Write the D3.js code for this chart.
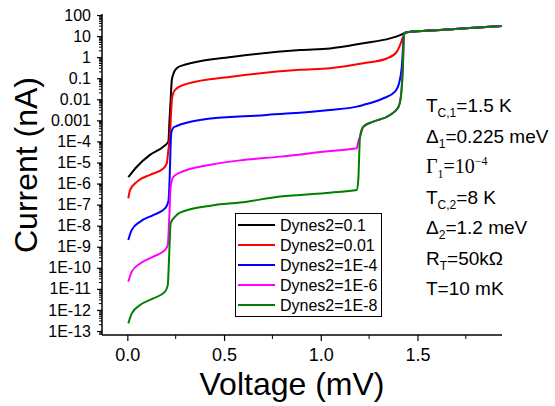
<!DOCTYPE html>
<html>
<head>
<meta charset="utf-8">
<script src="https://cdn.jsdelivr.net/npm/d3@7"></script>
<style>
  body { margin: 0; background: #fff; }
  svg { font-family: "Liberation Sans", Arial, sans-serif; }
</style>
</head>
<body>
<svg width="555" height="406"></svg>
<script>
// series: voltage (mV) and current (nA)
var vBlack = [0.005, 0.049, 0.117, 0.186, 0.212, 0.218, 0.224, 0.230, 0.240, 0.255, 0.290, 0.324, 0.548, 0.893, 1.048, 1.22, 1.358, 1.41, 1.427, 1.445, 1.617, 1.75, 1.936];
var iBlack = [2.0e-6, 6.3e-6, 2.3e-5, 5.6e-5, 9.8e-5, 1.0e-3, 1.0e-2, 0.083, 0.18, 0.30, 0.42, 0.51, 1.05, 2.2, 2.6, 4.6, 7.8, 11.2, 13.2, 15.1, 19.5, 23.4, 30.2];

var vRed = [0.005, 0.014, 0.049, 0.117, 0.186, 0.204, 0.212, 0.221, 0.227, 0.232, 0.247, 0.307, 0.548, 0.893, 1.048, 1.22, 1.341, 1.393, 1.414, 1.427, 1.445, 1.617, 1.75, 1.936];
var iRed = [2.0e-7, 4.9e-7, 1.2e-6, 2.6e-6, 5.2e-6, 9.1e-6, 3.9e-5, 2.5e-4, 3.2e-3, 0.0126, 0.028, 0.054, 0.12, 0.25, 0.30, 0.51, 0.87, 1.8, 4.6, 10, 15.1, 19.5, 23.4, 30.2];

var vBlue = [0.005, 0.023, 0.066, 0.134, 0.195, 0.212, 0.219, 0.223, 0.227, 0.238, 0.255, 0.376, 0.72, 1.048, 1.186, 1.22, 1.324, 1.384, 1.405, 1.419, 1.431, 1.445, 1.617, 1.75, 1.936];
var iBlue = [2.1e-9, 6.3e-9, 1.55e-8, 3.2e-8, 6.6e-8, 1.4e-7, 2.1e-6, 3.9e-5, 2.5e-4, 4.5e-4, 5.4e-4, 1.05e-3, 1.8e-3, 3.1e-3, 4.5e-3, 5.4e-3, 0.0112, 0.023, 0.058, 0.35, 13.5, 15.1, 19.5, 23.4, 30.2];

var vMagenta = [0.005, 0.023, 0.066, 0.134, 0.195, 0.209, 0.217, 0.224, 0.238, 0.272, 0.43, 0.583, 0.79, 1.048, 1.186, 1.194, 1.203, 1.22, 1.272, 1.358, 1.401, 1.414, 1.424, 1.431, 1.445, 1.617, 1.75, 1.936];
var iMagenta = [2.2e-11, 6.6e-11, 1.6e-10, 3.4e-10, 7.1e-10, 1.2e-9, 2.7e-8, 7.1e-7, 2.1e-6, 3.3e-6, 7.9e-6, 1.26e-5, 1.9e-5, 3.5e-5, 4.7e-5, 1.0e-4, 1.66e-4, 5.0e-4, 8.7e-4, 1.8e-3, 4.2e-3, 0.013, 0.25, 13.5, 15.1, 19.5, 23.4, 30.2];

var vGreen = [0.005, 0.023, 0.066, 0.134, 0.195, 0.209, 0.216, 0.224, 0.247, 0.272, 0.445, 0.583, 0.79, 1.048, 1.186, 1.194, 1.203, 1.22, 1.272, 1.358, 1.401, 1.414, 1.424, 1.431, 1.445, 1.617, 1.75, 1.936];
var iGreen = [2.3e-13, 6.9e-13, 1.7e-12, 3.5e-12, 7.4e-12, 1.5e-11, 3.4e-10, 1.3e-8, 2.7e-8, 4.2e-8, 9.3e-8, 1.26e-7, 2.4e-7, 3.7e-7, 4.9e-7, 1.5e-6, 1.66e-4, 5.0e-4, 8.7e-4, 1.8e-3, 4.2e-3, 0.013, 0.25, 13.5, 15.1, 19.5, 23.4, 30.2];

var seriesNames = ["Dynes2=0.1", "Dynes2=0.01", "Dynes2=1E-4", "Dynes2=1E-6", "Dynes2=1E-8"];
var seriesColors = ["#000000", "#ff0000", "#0000ff", "#ff00ff", "#008000"];

var xTicks = [0, 0.5, 1.0, 1.5];
var xMinor = [0.25, 0.75, 1.25, 1.75];
var yTicks = [1e2, 1e1, 1, 0.1, 0.01, 0.001, 1e-4, 1e-5, 1e-6, 1e-7, 1e-8, 1e-9, 1e-10, 1e-11, 1e-12, 1e-13];
var yLabels = ["100", "10", "1", "0.1", "0.01", "0.001", "1E-4", "1E-5", "1E-6", "1E-7", "1E-8", "1E-9", "1E-10", "1E-11", "1E-12", "1E-13"];

var svg = d3.select("svg");

var x = d3.scaleLinear().domain([-0.131, 1.937]).range([102, 502]);
var y = d3.scaleLog().domain([Math.pow(10, -13.19), Math.pow(10, 2.05)]).range([335, 14]);

// minor log ticks
var yMinor = [];
yTicks.forEach(function(t) {
  for (var k = 2; k <= 9; k++) {
    var v = t * k;
    if (v < y.domain()[1]) yMinor.push(v);
  }
});
[6, 7, 8, 9].forEach(function(k) {
  var v = 1e-14 * k;
  if (v > y.domain()[0]) yMinor.push(v);
});

// y axis
var yaxis = svg.append("g").attr("transform", "translate(102,0)")
  .call(d3.axisLeft(y).tickValues(yTicks).tickSize(5).tickPadding(6)
    .tickFormat(function(d, i) { return yLabels[i]; }));
yaxis.select(".domain").attr("stroke-width", 1.5).attr("d", "M0,14V335");
yaxis.selectAll(".tick line").attr("stroke-width", 1.2);
yaxis.selectAll("text").style("font-size", "16px").style("font-family", "'Liberation Sans', Arial, sans-serif");
svg.append("g").selectAll("line").data(yMinor).enter().append("line")
  .attr("x1", 99).attr("x2", 102)
  .attr("y1", function(d) { return y(d); }).attr("y2", function(d) { return y(d); })
  .attr("stroke", "#000").attr("stroke-width", 1);

// x axis
var xaxis = svg.append("g").attr("transform", "translate(0,335)")
  .call(d3.axisBottom(x).tickValues(xTicks).tickSize(6).tickPadding(7).tickFormat(d3.format(".1f")));
xaxis.select(".domain").attr("stroke-width", 1.5).attr("d", "M102,0H502");
xaxis.selectAll(".tick line").attr("stroke-width", 1.2);
xaxis.selectAll("text").style("font-size", "18px").style("font-family", "'Liberation Sans', Arial, sans-serif");
xaxis.selectAll(".minor").data(xMinor).enter().append("line")
  .attr("class", "minor")
  .attr("x1", function(d) { return x(d); }).attr("x2", function(d) { return x(d); })
  .attr("y1", 0).attr("y2", 4)
  .attr("stroke", "#000").attr("stroke-width", 1);

// axis titles
svg.append("text")
  .attr("x", 292).attr("y", 395)
  .attr("text-anchor", "middle")
  .style("font-size", "32px")
  .text("Voltage (mV)");
svg.append("text")
  .attr("transform", "translate(37,165) rotate(-90)")
  .attr("text-anchor", "middle")
  .style("font-size", "32px")
  .text("Current (nA)");

// curves
var seriesV = [vBlack, vRed, vBlue, vMagenta, vGreen];
var seriesI = [iBlack, iRed, iBlue, iMagenta, iGreen];
var line = d3.line()
  .x(function(d) { return x(d[0]); })
  .y(function(d) { return y(d[1]); })
  .curve(d3.curveMonotoneX);

seriesV.forEach(function(vs, s) {
  var pts = vs.map(function(v, i) { return [v, seriesI[s][i]]; });
  svg.append("path")
    .datum(pts)
    .attr("d", line)
    .attr("fill", "none")
    .attr("stroke", seriesColors[s])
    .attr("stroke-width", 2);
});

// legend
var legend = svg.append("g");
legend.append("rect")
  .attr("x", 235.5).attr("y", 213.5).attr("width", 146).attr("height", 103)
  .attr("fill", "#fff").attr("stroke", "#000").attr("stroke-width", 1);
seriesNames.forEach(function(name, i) {
  var yy = 225 + i * 20;
  legend.append("line")
    .attr("x1", 238).attr("x2", 275).attr("y1", yy).attr("y2", yy)
    .attr("stroke", seriesColors[i]).attr("stroke-width", 2);
  legend.append("text")
    .attr("x", 280).attr("y", yy).attr("dy", "0.35em")
    .style("font-size", "16px")
    .text(name);
});

// parameter annotations
var notes = svg.append("g").style("font-size", "19px");
function note(i) {
  return notes.append("text").attr("x", 426).attr("y", 112 + i * 30.5);
}
var t;
t = note(0);
t.append("tspan").text("T");
t.append("tspan").attr("dy", 5).style("font-size", "12px").text("C,1");
t.append("tspan").attr("dy", -5).text("=1.5 K");

t = note(1);
t.append("tspan").text("\u0394");
t.append("tspan").attr("dy", 5).style("font-size", "12px").text("1");
t.append("tspan").attr("dy", -5).text("=0.225 meV");

t = note(2).style("font-family", "'Liberation Serif', 'Times New Roman', serif").style("font-size", "20px");
t.append("tspan").text("\u0393");
t.append("tspan").attr("dy", 5).style("font-size", "12px").text("1");
t.append("tspan").attr("dy", -5).text("=10");
t.append("tspan").attr("dy", -8).style("font-size", "12px").text("\u22124");

t = note(3);
t.append("tspan").text("T");
t.append("tspan").attr("dy", 5).style("font-size", "12px").text("C,2");
t.append("tspan").attr("dy", -5).text("=8 K");

t = note(4);
t.append("tspan").text("\u0394");
t.append("tspan").attr("dy", 5).style("font-size", "12px").text("2");
t.append("tspan").attr("dy", -5).text("=1.2 meV");

t = note(5);
t.append("tspan").text("R");
t.append("tspan").attr("dy", 5).style("font-size", "12px").text("T");
t.append("tspan").attr("dy", -5).text("=50k\u03a9");

t = note(6);
t.append("tspan").text("T=10 mK");
</script>
</body>
</html>
